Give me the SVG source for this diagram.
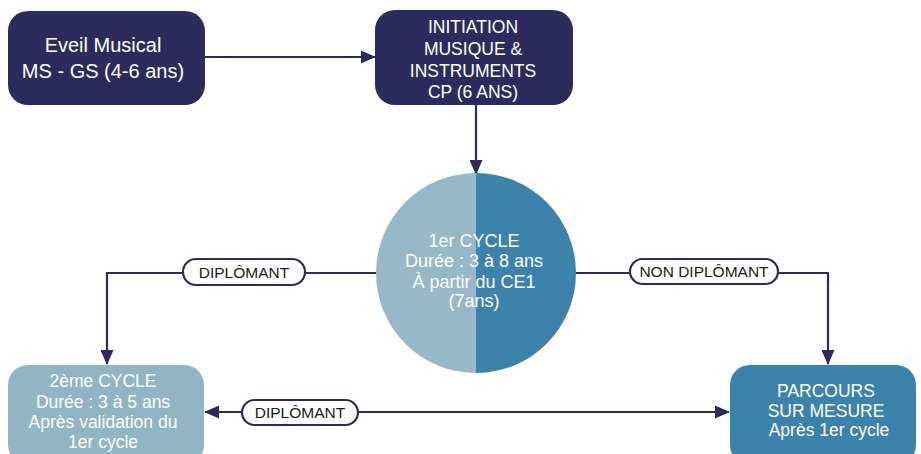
<svg xmlns="http://www.w3.org/2000/svg" width="921" height="454" viewBox="0 0 921 454">
<defs>
<marker id="ah" markerWidth="15" markerHeight="13" refX="14" refY="6.5" orient="auto-start-reverse" markerUnits="userSpaceOnUse">
<path d="M0,0 L15,6.5 L0,13 Z" fill="#2d2b5e"/>
</marker>
<style>
.t{font-family:"Liberation Sans",Arial,sans-serif;fill:#ffffff;text-anchor:middle}
.c{fill:none;stroke:#2d2b5e;stroke-width:2.2}
.pill{fill:#ffffff;stroke:#2d2b5e;stroke-width:2.2}
.lt{font-family:"Liberation Sans",Arial,sans-serif;fill:#1a1a1a;text-anchor:middle;font-size:15.5px}
</style>
</defs>
<rect width="921" height="454" fill="#ffffff"/>
<g id="connectors">
<line class="c" x1="205" y1="57" x2="375" y2="57" marker-end="url(#ah)"/>
<line class="c" x1="476" y1="105" x2="476" y2="174" marker-end="url(#ah)"/>
<polyline class="c" points="376,273 107,273 107,364" marker-end="url(#ah)"/>
<polyline class="c" points="576,273 828,273 828,364" marker-end="url(#ah)"/>
<line class="c" x1="205" y1="412" x2="729" y2="412" marker-start="url(#ah)" marker-end="url(#ah)"/>
<g id="label-diplomant-1">
<rect class="pill" x="183" y="259" width="122" height="26" rx="13"/>
<text class="lt" x="244" y="277.5">DIPLÔMANT</text>
</g>
<g id="label-non-diplomant">
<rect class="pill" x="630" y="259" width="148" height="25" rx="12.5"/>
<text class="lt" x="704" y="277">NON DIPLÔMANT</text>
</g>
<g id="label-diplomant-2">
<rect class="pill" x="242" y="400" width="116" height="25" rx="12.5"/>
<text class="lt" x="300" y="418">DIPLÔMANT</text>
</g>
</g>
<g id="eveil">
<rect x="8" y="11" width="197" height="94" rx="20" fill="#2d2b5e"/>
<text class="t" x="103" y="52" font-size="20">Eveil Musical</text>
<text class="t" x="103" y="78" font-size="20">MS - GS (4-6 ans)</text>
</g>
<g id="initiation">
<rect x="375" y="10" width="198" height="95" rx="20" fill="#2d2b5e"/>
<text class="t" x="473" y="33" font-size="17.5">INITIATION</text>
<text class="t" x="473" y="55" font-size="17.5">MUSIQUE &amp;</text>
<text class="t" x="473" y="77" font-size="17.5">INSTRUMENTS</text>
<text class="t" x="473" y="98" font-size="17.5">CP (6 ANS)</text>
</g>
<g id="cycle1">
<path d="M476,173 A100,100 0 0 0 476,373 Z" fill="#97b8c6"/>
<path d="M476,173 A100,100 0 0 1 476,373 Z" fill="#3b83ab"/>
<text class="t" x="474" y="247" font-size="18">1er CYCLE</text>
<text class="t" x="474" y="267" font-size="18">Durée : 3 à 8 ans</text>
<text class="t" x="474" y="288" font-size="18">À partir du CE1</text>
<text class="t" x="474" y="307" font-size="18">(7ans)</text>
</g>
<g id="cycle2">
<rect x="8" y="365" width="196" height="100" rx="20" fill="#91b5c4"/>
<text class="t" x="103" y="387" font-size="17.5">2ème CYCLE</text>
<text class="t" x="103" y="408" font-size="17.5">Durée : 3 à 5 ans</text>
<text class="t" x="103" y="428" font-size="17.5">Après validation du</text>
<text class="t" x="103" y="448" font-size="17.5">1er cycle</text>
</g>
<g id="parcours">
<rect x="730" y="365" width="186" height="100" rx="20" fill="#3b83ab"/>
<text class="t" x="826" y="397" font-size="17.5">PARCOURS</text>
<text class="t" x="826" y="417" font-size="17.5">SUR MESURE</text>
<text class="t" x="829" y="436" font-size="17.5">Après 1er cycle</text>
</g>
</svg>
